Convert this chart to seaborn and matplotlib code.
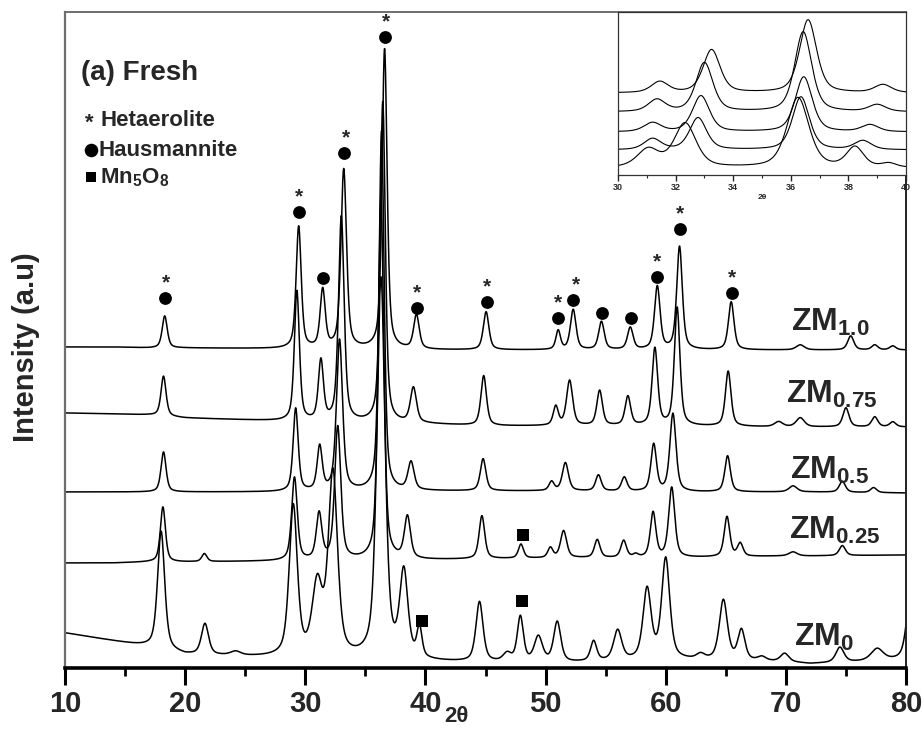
import numpy as np
import pandas as pd
import matplotlib
matplotlib.use("Agg")
import matplotlib.pyplot as plt
import seaborn as sns

# ---------------- data ----------------
labels = ["ZM$_{1.0}$", "ZM$_{0.75}$", "ZM$_{0.5}$", "ZM$_{0.25}$", "ZM$_{0}$"]

# background knots (2theta, intensity) per pattern
bg_x = [10, 14, 17, 20, 30, 40, 45, 52, 60, 70, 72, 80]
bg_zm10 = [321, 321, 320, 320, 319, 318, 318, 318, 318, 318, 318, 318]
bg_zm075 = [255, 254, 253, 250, 246, 244, 242, 242, 242, 241, 241, 241]
bg_zm05 = [176, 176, 176, 176, 176, 177, 177, 177, 176, 176, 176, 175]
bg_zm025 = [105, 105, 106, 106, 107, 108, 109, 110, 110, 112, 112, 113]
bg_zm0 = [35, 27, 21, 13, 9, 6, 5, 5, 8, 6, 4, 8]

# peaks: positions, heights, widths (FWHM, degrees)
pos_zm10 = [18.3, 29.45, 31.45, 33.2, 36.6, 39.25, 45.05, 51.05, 52.3, 54.65, 57.05, 59.3, 61.15, 65.45, 71.2, 75.4, 77.4, 78.9]
hgt_zm10 = [32, 122, 58, 179, 300, 34, 38, 19, 40, 28, 22, 63, 103, 48, 5, 14, 5, 4]
wid_zm10 = [0.5, 0.5, 0.5, 0.55, 0.5, 0.55, 0.55, 0.45, 0.55, 0.55, 0.55, 0.55, 0.55, 0.55, 0.8, 0.6, 0.6, 0.6]

pos_zm075 = [18.2, 29.3, 31.3, 33.0, 36.45, 39.0, 44.85, 50.85, 52.0, 54.5, 56.85, 59.1, 60.95, 65.2, 69.4, 71.2, 75.0, 77.4, 78.9]
hgt_zm075 = [40, 130, 60, 205, 321, 35, 50, 19, 45, 35, 29, 77, 118, 55, 5, 9, 19, 10, 5]
wid_zm075 = [0.5, 0.5, 0.5, 0.55, 0.5, 0.6, 0.55, 0.5, 0.6, 0.55, 0.55, 0.55, 0.55, 0.55, 0.8, 0.8, 0.6, 0.6, 0.6]

pos_zm05 = [18.2, 29.2, 31.2, 32.85, 36.35, 38.8, 44.8, 50.5, 51.65, 54.4, 56.55, 59.0, 60.6, 65.15, 70.6, 74.7, 77.3]
hgt_zm05 = [40, 83, 44, 151, 360, 28, 32, 9, 28, 16, 14, 47, 78, 36, 6, 11, 5]
wid_zm05 = [0.5, 0.5, 0.5, 0.6, 0.5, 0.6, 0.55, 0.5, 0.6, 0.55, 0.55, 0.55, 0.6, 0.55, 0.8, 0.6, 0.6]

pos_zm025 = [18.15, 21.6, 29.1, 31.15, 32.7, 36.3, 38.5, 44.7, 47.95, 50.4, 51.5, 54.3, 56.5, 57.5, 58.95, 60.5, 65.1, 66.2, 70.6, 74.7]
hgt_zm025 = [55, 8, 83, 46, 133, 360, 42, 43, 14, 10, 27, 18, 17, 3, 45, 70, 40, 13, 4, 10]
wid_zm025 = [0.5, 0.5, 0.55, 0.55, 0.6, 0.55, 0.6, 0.55, 0.5, 0.5, 0.6, 0.55, 0.55, 0.5, 0.55, 0.6, 0.55, 0.55, 0.8, 0.6]

pos_zm0 = [18.0, 21.65, 24.2, 29.0, 31.0, 32.3, 36.3, 38.2, 39.5, 44.5, 46.8, 47.9, 49.4, 50.97, 54.0, 56.0, 58.45, 60.0, 62.9, 64.8, 66.3, 68.0, 69.9, 74.5, 77.6, 80.4]
hgt_zm0 = [118, 31, 4, 150, 70, 183, 380, 85, 30, 60, 8, 45, 25, 40, 20, 30, 70, 100, 5, 60, 30, 4, 8, 15, 12, 70]
wid_zm0 = [0.7, 0.7, 1.0, 0.8, 1.0, 0.9, 0.8, 0.8, 0.5, 0.7, 0.8, 0.6, 0.8, 0.7, 0.6, 0.8, 0.8, 0.8, 0.8, 0.8, 0.7, 0.8, 0.8, 0.8, 1.2, 0.8]

# inset (30-40 deg), separate smoothed patterns
ins_bg = [93, 112, 132, 150, 168]
ins_pos_zm10 = [31.45, 33.25, 36.6, 39.2]
ins_hgt_zm10 = [11, 43, 73, 8]
ins_pos_zm075 = [31.35, 33.0, 36.43, 39.0]
ins_hgt_zm075 = [12, 49, 80, 7]
ins_pos_zm05 = [31.2, 32.88, 36.45, 38.75]
ins_hgt_zm05 = [9, 36, 55, 7]
ins_pos_zm025 = [31.2, 32.78, 36.35, 38.5]
ins_hgt_zm025 = [11, 32, 53, 9]
ins_pos_zm0 = [31.05, 32.33, 36.25, 38.23, 39.4]
ins_hgt_zm0 = [18, 44, 70, 20, 4]
ins_wid_zm0 = [0.9, 0.9, 0.9, 0.7, 0.6]

# phase markers (2theta, intensity position of symbol)
circ_x = [18.3, 29.5, 31.5, 33.2, 36.6, 39.3, 45.1, 51.0, 52.3, 54.7, 57.1, 59.3, 61.2, 65.5]
circ_y = [370, 456, 390, 515, 631, 360, 366, 350, 368, 355, 350, 391, 439, 375]
star_x = [18.4, 29.5, 33.4, 36.7, 39.3, 45.1, 51.0, 52.5, 59.3, 61.2, 65.5]
sq_x = [48.1, 48.0, 39.7]
sq_y = [133, 67, 47]

# ---------------- build curves ----------------
grid = np.round(np.arange(10.0, 80.0001, 0.02), 3)


def pv(x, x0, h, w, eta=0.55):
    d = (x - x0) / (w / 2.0)
    return h * (eta / (1 + d ** 2) + (1 - eta) * np.exp(-np.log(2) * d ** 2))


def pattern(xg, bgk, pos, hgt, wid, eta=0.55):
    y = np.array(np.interp(xg, bg_x, bgk), dtype=float)
    for p, h, w in zip(pos, hgt, wid):
        y = y + pv(xg, p, h, w, eta)
    return y


main_sets = [
    (bg_zm10, pos_zm10, hgt_zm10, wid_zm10),
    (bg_zm075, pos_zm075, hgt_zm075, wid_zm075),
    (bg_zm05, pos_zm05, hgt_zm05, wid_zm05),
    (bg_zm025, pos_zm025, hgt_zm025, wid_zm025),
    (bg_zm0, pos_zm0, hgt_zm0, wid_zm0),
]
frames = []
for lab, (bg, p, h, w) in zip(labels, main_sets):
    frames.append(pd.DataFrame({"tt": grid, "I": pattern(grid, bg, p, h, w), "sample": lab}))
df = pd.concat(frames, ignore_index=True)

ins_grid = np.round(np.arange(30.0, 40.0001, 0.01), 3)
ins_sets = [
    (ins_pos_zm10, ins_hgt_zm10, [0.7] * 4),
    (ins_pos_zm075, ins_hgt_zm075, [0.7] * 4),
    (ins_pos_zm05, ins_hgt_zm05, [0.7] * 4),
    (ins_pos_zm025, ins_hgt_zm025, [0.7] * 4),
    (ins_pos_zm0, ins_hgt_zm0, ins_wid_zm0),
]
iframes = []
for lab, b, (p, h, w) in zip(labels, ins_bg, ins_sets):
    y = np.full_like(ins_grid, 175.0 - b)
    for pp, hh, ww in zip(p, h, w):
        y = y + pv(ins_grid, pp, hh, ww, 0.5)
    iframes.append(pd.DataFrame({"tt": ins_grid, "I": y, "sample": lab}))
dfi = pd.concat(iframes, ignore_index=True)

# ---------------- draw ----------------
sns.set_theme(style="white")
plt.rcParams["font.family"] = ["Liberation Sans", "DejaVu Sans"]
plt.rcParams["mathtext.fontset"] = "custom"
plt.rcParams["mathtext.rm"] = "Liberation Sans"
plt.rcParams["mathtext.bf"] = "Liberation Sans:bold"
plt.rcParams["mathtext.it"] = "Liberation Sans:italic"

fig = plt.figure(figsize=(9.22, 7.30), dpi=100)
ax = fig.add_axes([65 / 922, 1 - 668 / 730, (906 - 65) / 922, (668 - 12) / 730])

for lab in labels:
    sns.lineplot(data=df[df["sample"] == lab], x="tt", y="I", ax=ax, color="black",
                 lw=1.1, estimator=None, sort=False, legend=False)

ax.set_xlim(10, 80)
ax.set_ylim(0, 656)
ax.set_yticks([])
ax.set_xticks(range(10, 81, 10))
ax.set_xticks(range(15, 80, 10), minor=True)
ax.tick_params(axis="x", which="major", direction="out", length=12, width=2.2, color="black",
               bottom=True, labelsize=21, pad=4)
ax.tick_params(axis="x", which="minor", direction="out", length=6, width=2.0, color="black", bottom=True)
for lab_t in ax.get_xticklabels():
    lab_t.set_fontweight("bold")
ax.set_xlabel("")
ax.set_ylabel("")

ax.spines["bottom"].set_linewidth(2.6)
ax.spines["bottom"].set_color("black")
ax.spines["left"].set_color("#6e6e6e")
ax.spines["left"].set_linewidth(1.6)
ax.spines["top"].set_color("#6e6e6e")
ax.spines["top"].set_linewidth(1.4)
ax.spines["right"].set_color("#222222")
ax.spines["right"].set_linewidth(1.4)

fig.text(26 / 922, 1 - 347 / 730, "Intensity (a.u)", rotation=90, ha="center", va="center",
         fontsize=21, fontweight="bold")
fig.text(456 / 922, 1 - 716 / 730, "2θ", ha="center", va="center", fontsize=16, fontweight="bold")

# phase markers
sns.scatterplot(x=circ_x, y=circ_y, ax=ax, color="black", marker="o", s=85, edgecolor="black",
                linewidth=0, legend=False)
star_y = [circ_y[circ_x.index(min(circ_x, key=lambda c: abs(c - s)))] + 15 for s in star_x]
for sx, sy in zip(star_x, star_y):
    ax.text(sx, sy, "*", ha="center", va="center", fontsize=15, fontweight="bold")
sns.scatterplot(x=sq_x, y=sq_y, ax=ax, color="black", marker="s", s=70, edgecolor="black",
                linewidth=0, legend=False)


def ax_frac(px, py):
    return ((px - 65) / 841, (668 - py) / 656)


# header and phase legend
ax.text(*ax_frac(81, 73), "(a) Fresh", ha="left", va="center", fontsize=20, fontweight="bold",
        transform=ax.transAxes)
ax.text(*ax_frac(85, 123), "*", ha="left", va="center", fontsize=16, fontweight="bold",
        transform=ax.transAxes)
ax.text(*ax_frac(101, 120), "Hetaerolite", ha="left", va="center", fontsize=16, fontweight="bold",
        transform=ax.transAxes)
ax.scatter(*ax_frac(91, 150), marker="o", s=95, color="black", transform=ax.transAxes, linewidth=0)
ax.text(*ax_frac(99, 150), "Hausmannite", ha="left", va="center", fontsize=16, fontweight="bold",
        transform=ax.transAxes)
ax.scatter(*ax_frac(91, 177), marker="s", s=55, color="black", transform=ax.transAxes, linewidth=0)
ax.text(*ax_frac(100, 178), r"$\mathbf{Mn_5O_8}$", ha="left", va="center", fontsize=16,
        transform=ax.transAxes)

# sample labels
lab_pos = [(791, 322), (786, 394), (790, 470), (789, 530), (794, 637)]
for lab, (px, py) in zip(labels, lab_pos):
    ax.text(*ax_frac(px, py), r"$\mathbf{" + lab.replace("$", "") + "}$", ha="left", va="center",
            fontsize=23, transform=ax.transAxes)

# inset
axi = fig.add_axes([618 / 922, 1 - 175 / 730, (906 - 618) / 922, (175 - 12) / 730])
for lab in labels:
    sns.lineplot(data=dfi[dfi["sample"] == lab], x="tt", y="I", ax=axi, color="black", lw=0.8,
                 estimator=None, sort=False, legend=False)
axi.set_xlim(30, 40)
axi.set_ylim(0, 163)
axi.set_yticks([])
axi.set_xticks(range(30, 41, 2))
axi.set_xticks(range(31, 40, 2), minor=True)
axi.tick_params(axis="x", which="major", direction="out", length=4, width=1, bottom=True,
                labelsize=6.5, pad=2)
axi.tick_params(axis="x", which="minor", direction="out", length=2, width=0.8, bottom=True)
for lab_t in axi.get_xticklabels():
    lab_t.set_fontweight("bold")
axi.set_xlabel("2θ", fontsize=6, fontweight="bold", labelpad=1)
axi.set_ylabel("")
for s in axi.spines.values():
    s.set_color("#333333")
    s.set_linewidth(0.9)

fig.savefig("out.png", dpi=100)
